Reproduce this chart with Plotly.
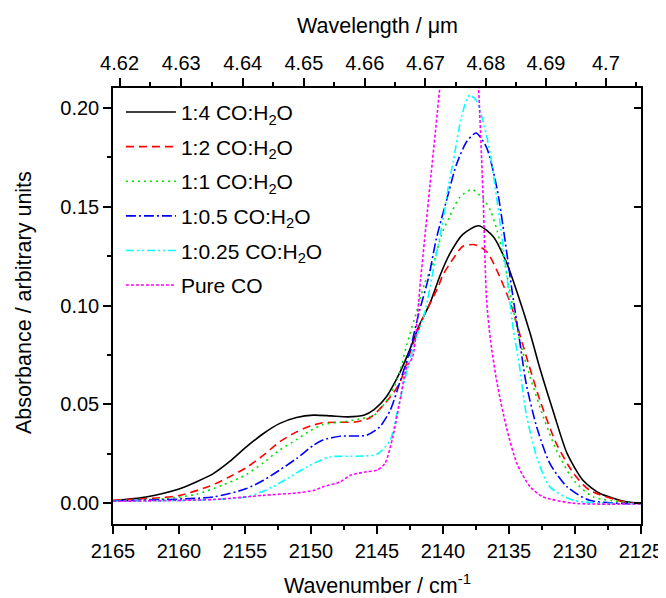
import plotly.graph_objects as go

# ---------------- data ----------------
wn_14 = [2165, 2162.5, 2160, 2158.7, 2157.4, 2156.2, 2154.9, 2153.6, 2152.4, 2151.1, 2149.8,
         2148.5, 2147.2, 2146.0, 2145.2, 2144.3, 2143.3, 2142.5, 2141.8, 2141.0, 2140.2,
         2139.5, 2138.5, 2137.3, 2136.2, 2135.2, 2134.4, 2133.4, 2132.65, 2131.6, 2130.6,
         2129.4, 2128.1, 2126.1, 2125]
ab_14 = [0.0013, 0.0032, 0.0072, 0.0108, 0.0150, 0.0209, 0.0285, 0.0353, 0.0403, 0.0434, 0.0446,
         0.0442, 0.0437, 0.0445, 0.0475, 0.0538, 0.0657, 0.0780, 0.0900, 0.1010, 0.1156,
         0.1260, 0.1360, 0.1404, 0.1350, 0.1220, 0.1070, 0.0860, 0.0680, 0.0454, 0.0252,
         0.0116, 0.0049, 0.0007, 0.0000]

wn_12 = [2165, 2161.2, 2159.9, 2157.7, 2156.2, 2154.9, 2153.6, 2152.4, 2151.1, 2150.0, 2149.1,
         2147.5, 2146.5, 2145.5, 2144.3, 2143.3, 2142.5, 2141.5, 2140.4, 2140.0, 2139.2,
         2138.5, 2137.6, 2136.7, 2135.7, 2134.8, 2133.9, 2132.65, 2131.4, 2130.1, 2128.9,
         2126.3, 2125]
ab_12 = [0.0015, 0.0029, 0.0040, 0.0086, 0.0133, 0.0180, 0.0243, 0.0310, 0.0361, 0.0392, 0.0407,
         0.0410, 0.0412, 0.0434, 0.0513, 0.0606, 0.0760, 0.0940, 0.1090, 0.1156, 0.1240,
         0.1300, 0.1308, 0.1274, 0.1146, 0.0994, 0.0790, 0.0520, 0.0300, 0.0150, 0.0066,
         0.0007, 0.0000]

wn_11 = [2165, 2161.0, 2158.7, 2156.7, 2155.4, 2154.9, 2153.6, 2152.4, 2151.1, 2150.1, 2149.1,
         2147.5, 2146.5, 2145.2, 2144.0, 2143.3, 2142.75, 2142.0, 2141.4, 2140.7, 2140.1,
         2139.5, 2138.7, 2137.8, 2136.95, 2136.4, 2135.9, 2135.4, 2134.9, 2134.2, 2133.4,
         2132.4, 2131.4, 2130.1, 2128.6, 2125]
ab_11 = [0.0013, 0.0024, 0.0045, 0.0092, 0.0128, 0.0145, 0.0205, 0.0268, 0.0322, 0.0365, 0.0398,
         0.0412, 0.0424, 0.0446, 0.0547, 0.0660, 0.0800, 0.0970, 0.1110, 0.1220, 0.1360,
         0.1450, 0.1550, 0.1587, 0.1540, 0.1480, 0.1380, 0.1240, 0.1060, 0.0825, 0.0640,
         0.0437, 0.0268, 0.0116, 0.0032, 0.0000]

wn_105 = [2165, 2157.4, 2154.9, 2153.6, 2152.4, 2151.1, 2149.8, 2149.1, 2147.8, 2145.8, 2144.8,
          2144.0, 2143.3, 2142.5, 2141.8, 2141.1, 2140.5, 2139.7, 2139.0, 2138.2, 2137.5,
          2136.7, 2135.9, 2135.3, 2134.8, 2134.2, 2133.7, 2132.9, 2131.9, 2130.6, 2128.9, 2125]
ab_105 = [0.0012, 0.0032, 0.0074, 0.0116, 0.0167, 0.0226, 0.0294, 0.0320, 0.0339, 0.0344, 0.0386,
          0.0470, 0.0606, 0.0775, 0.0970, 0.1140, 0.1340, 0.1540, 0.1710, 0.1830, 0.1873,
          0.1800, 0.1590, 0.1330, 0.1090, 0.0825, 0.0606, 0.0386, 0.0201, 0.0083, 0.0015, -0.0003]

wn_1025 = [2165, 2154.9, 2152.9, 2151.6, 2150.3, 2148.6, 2146.5, 2145.0, 2144.0, 2143.5, 2142.9,
           2142.1, 2141.4, 2140.6, 2140.0, 2139.6, 2139.2, 2138.6, 2138.0, 2137.5, 2137.2,
           2136.7, 2136.4, 2135.7, 2135.2, 2134.7, 2134.2, 2133.7, 2132.9, 2131.9, 2130.1, 2125]
ab_1025 = [0.0010, 0.0032, 0.0083, 0.0133, 0.0184, 0.0234, 0.0238, 0.0248, 0.0319, 0.0454, 0.0623,
           0.0825, 0.0960, 0.1230, 0.1430, 0.1600, 0.1737, 0.1956, 0.2065, 0.2040, 0.1990,
           0.1860, 0.1760, 0.1430, 0.1170, 0.0893, 0.0690, 0.0454, 0.0234, 0.0083, 0.0015, -0.0003]

wn_co = [2165, 2157.4, 2153.6, 2151.1, 2149.8, 2149.1, 2147.8, 2147.0, 2145.8, 2145.0, 2144.4,
         2143.8, 2143.3, 2142.75, 2142.3, 2141.7, 2141.0, 2140.25, 2139.6, 2139.0, 2138.5,
         2138.0, 2137.6, 2137.3, 2136.95, 2136.7, 2136.4, 2135.9, 2135.2, 2134.4, 2133.4,
         2132.4, 2130.1, 2125]
ab_co = [0.0010, 0.0019, 0.0040, 0.0052, 0.0065, 0.0083, 0.0108, 0.0142, 0.0159, 0.0167, 0.0201,
         0.0336, 0.0505, 0.0690, 0.0740, 0.1130, 0.1600, 0.2100, 0.2600, 0.3000, 0.3100,
         0.2900, 0.2500, 0.2100, 0.1530, 0.1030, 0.0825, 0.0606, 0.0386, 0.0201, 0.0083,
         0.0032, 0.0000, -0.0003]

names = ["1:4 CO:H<sub>2</sub>O", "1:2 CO:H<sub>2</sub>O", "1:1 CO:H<sub>2</sub>O",
         "1:0.5 CO:H<sub>2</sub>O", "1:0.25 CO:H<sub>2</sub>O", "Pure CO"]

wavelength_ticks = [4.62, 4.63, 4.64, 4.65, 4.66, 4.67, 4.68, 4.69, 4.70]
wavelength_labels = ["4.62", "4.63", "4.64", "4.65", "4.66", "4.67", "4.68", "4.69", "4.7"]
wavelength_minor = [4.625, 4.635, 4.645, 4.655, 4.665, 4.675, 4.685, 4.695, 4.705]

# ---------------- styling ----------------
series = [(wn_14, ab_14), (wn_12, ab_12), (wn_11, ab_11),
          (wn_105, ab_105), (wn_1025, ab_1025), (wn_co, ab_co)]
colors = ["#000000", "#FF0000", "#00E000", "#0000FF", "#00FFFF", "#FF00FF"]
dashes = ["solid", "8px,5px", "2px,4px", "10px,3px,2px,3px",
          "8px,3px,2px,3px,2px,3px", "3px,2px"]

FONT = "Liberation Sans, Arial, sans-serif"
XR = [2165, 2125]
YR = [-0.0105, 0.2101]

fig = go.Figure()
for i, ((x, y), nm) in enumerate(zip(series, names)):
    fig.add_trace(go.Scatter(
        x=x, y=y, mode="lines", name=nm, legendgroup=f"g{i}",
        line=dict(color=colors[i], width=1.6, dash=dashes[i], shape="spline", smoothing=0.7),
        hoverinfo="skip"))

# helper trace to activate the top / right axes
fig.add_trace(go.Scatter(x=XR, y=[0, 0], xaxis="x2", yaxis="y2", mode="lines",
                         line=dict(width=0), opacity=0, showlegend=False, hoverinfo="skip"))

tickfont = dict(family=FONT, size=20, color="black")
common = dict(showgrid=False, zeroline=False, showline=True, linecolor="black",
              linewidth=1.5, tickwidth=1.5, tickcolor="black", automargin=False)
# the page body adds an 8px offset, so the figure is 8px smaller than the window
fig.update_layout(
    width=658, height=590,
    margin=dict(l=105, r=25, t=80, b=74, autoexpand=False),
    paper_bgcolor="white", plot_bgcolor="white",
    font=dict(family=FONT, color="black"),
    xaxis=dict(range=XR, ticks="outside", ticklen=8, tick0=2125, dtick=5, tickfont=tickfont,
               minor=dict(ticks="outside", ticklen=4, tickwidth=1.5, tickcolor="black",
                          dtick=2.5, tick0=2125, showgrid=False), **common),
    xaxis2=dict(range=XR, overlaying="x", side="top", anchor="y", ticks="outside", ticklen=8,
                tickmode="array", tickvals=[10000 / w for w in wavelength_ticks],
                ticktext=wavelength_labels, tickfont=tickfont,
                minor=dict(ticks="outside", ticklen=4, tickwidth=1.5, tickcolor="black",
                           tickmode="array", tickvals=[10000 / w for w in wavelength_minor],
                           showgrid=False), **common),
    yaxis=dict(range=YR, ticks="outside", ticklen=8, tick0=0, dtick=0.05, tickformat=".2f",
               tickfont=tickfont,
               minor=dict(ticks="outside", ticklen=4, tickwidth=1.5, tickcolor="black",
                          dtick=0.025, tick0=0, showgrid=False), **common),
    yaxis2=dict(range=YR, overlaying="y", side="right", anchor="x", ticks="inside", ticklen=7,
                tick0=0, dtick=0.05, showticklabels=False, **common),
    legend=dict(x=0.015, y=0.991, xanchor="left", yanchor="top", bgcolor="rgba(0,0,0,0)",
                borderwidth=0, font=dict(family=FONT, size=21, color="black"),
                itemwidth=50, tracegroupgap=4.3),
    showlegend=True,
    annotations=[
        dict(text="Wavenumber / cm<sup>-1</sup>", xref="paper", yref="paper", x=0.5, y=-0.137,
             xanchor="center", yanchor="middle", showarrow=False,
             font=dict(family=FONT, size=21.5, color="black")),
        dict(text="Wavelength / μm", xref="paper", yref="paper", x=0.5, y=1.142,
             xanchor="center", yanchor="middle", showarrow=False,
             font=dict(family=FONT, size=21.5, color="black")),
        dict(text="Absorbance / arbitrary units", xref="paper", yref="paper", x=-0.1686, y=0.509,
             xanchor="center", yanchor="middle", textangle=-90, showarrow=False,
             font=dict(family=FONT, size=21.5, color="black")),
    ],
)

fig.write_html("out.html")
